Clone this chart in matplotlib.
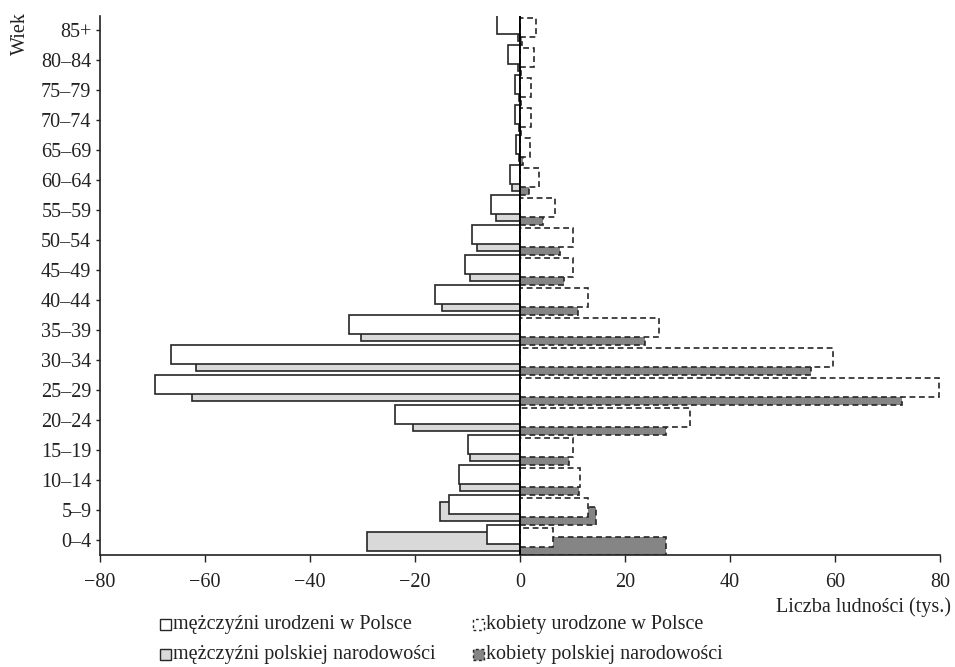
import numpy as np
import matplotlib
matplotlib.use('Agg')
import matplotlib.pyplot as plt
from matplotlib.patches import Rectangle

plt.rcParams['font.family'] = ['Liberation Serif', 'DejaVu Serif']

# age groups, bottom to top
ages = ['0–4', '5–9', '10–14', '15–19', '20–24', '25–29', '30–34', '35–39', '40–44',
        '45–49', '50–54', '55–59', '60–64', '65–69', '70–74', '75–79', '80–84', '85+']

# thousands of people
men_born = [6.3, 13.5, 11.7, 10.0, 23.9, 69.5, 66.5, 32.5, 16.1,
            10.5, 9.2, 5.5, 2.0, 0.7, 0.95, 0.95, 2.2, 4.3]
men_pl = [29.1, 15.2, 11.5, 9.5, 20.4, 62.5, 61.8, 30.2, 14.9,
          9.6, 8.25, 4.6, 1.5, 0.25, 0.2, 0.2, 0.3, 0.3]
women_born = [6.3, 12.9, 11.4, 10.0, 32.4, 79.9, 59.7, 26.5, 13.0,
              10.0, 10.0, 6.7, 3.6, 1.9, 2.1, 2.1, 2.7, 3.1]
women_pl = [27.9, 14.5, 11.2, 9.3, 27.8, 72.7, 55.4, 23.9, 11.0,
            8.4, 7.6, 4.3, 1.8, 0.6, 0.2, 0.2, 0.2, 0.3]

legend_labels = ['mężczyźni urodzeni w Polsce', 'kobiety urodzone w Polsce',
                 'mężczyźni polskiej narodowości', 'kobiety polskiej narodowości']

light = '#d9d9d9'
dark = '#858585'
edge = '#262626'
dash = (0, (3.5, 2.2))
fs = 14.5

fig = plt.figure(figsize=(9.55, 6.67), dpi=100)
ax = fig.add_axes([100 / 955, 1 - 555 / 667, 840 / 955, 539 / 667])

y = np.arange(len(ages))
men_born = -np.array(men_born)
men_pl = -np.array(men_pl)

# men: grey behind, white on top
ax.barh(y - 0.055, men_pl, height=0.64, color=light, edgecolor=edge, linewidth=1.2, zorder=2)
ax.barh(y + 0.185, men_born, height=0.625, color='white', edgecolor=edge, linewidth=1.2, zorder=3)
# women: dark grey behind, dashed white on top
ax.barh(y - 0.2, women_pl, height=0.62, color=dark, edgecolor=edge, linewidth=1.2,
        linestyle=dash, zorder=2)
ax.barh(y + 0.078, women_born, height=0.635, color='white', edgecolor=edge, linewidth=1.2,
        linestyle=dash, zorder=3)

ax.axvline(0, color='black', linewidth=1.3, zorder=5)

ax.set_xlim(-80, 80)
ax.set_ylim(-0.5, 17.47)
ax.set_xticks(np.arange(-80, 81, 20))
ax.set_xticklabels(['−80', '−60', '−40', '−20', '0', '20', '40', '60', '80'])
ax.set_yticks(y)
ax.set_yticklabels(ages)

for s in ['top', 'right']:
    ax.spines[s].set_visible(False)
for s in ['left', 'bottom']:
    ax.spines[s].set_linewidth(1.2)
    ax.spines[s].set_color('#222222')
ax.tick_params(axis='y', length=3.2, width=1, pad=3, labelsize=fs, colors='#222222')
ax.tick_params(axis='x', length=5, width=1, pad=8, labelsize=fs, colors='#222222')

fig.text(20 / 955, 1 - 12 / 667, 'Wiek', rotation=90, ha='center', va='top', fontsize=fs,
         color='#222222')
fig.text(951 / 955, 1 - 607 / 667, 'Liczba ludności (tys.)', ha='right', va='center',
         fontsize=fs, color='#222222')

# legend drawn by hand (2 x 2)
styles = [dict(facecolor='white', edgecolor=edge, linestyle='-'),
          dict(facecolor='white', edgecolor=edge, linestyle=(0, (2, 2))),
          dict(facecolor=light, edgecolor=edge, linestyle='-'),
          dict(facecolor=dark, edgecolor=edge, linestyle=(0, (2, 2)))]
col_x = [160, 473]
row_y = [624, 654]
for k, lab in enumerate(legend_labels):
    cx = col_x[k % 2]
    cy = row_y[k // 2]
    fig.add_artist(Rectangle((cx / 955, 1 - (cy + 5.5) / 667), 11 / 955, 11 / 667,
                             transform=fig.transFigure, linewidth=1.0, **styles[k]))
    fig.text((cx + 13) / 955, 1 - cy / 667, lab, ha='left', va='center', fontsize=fs,
             color='#222222')

plt.savefig('out.png', dpi=100)
